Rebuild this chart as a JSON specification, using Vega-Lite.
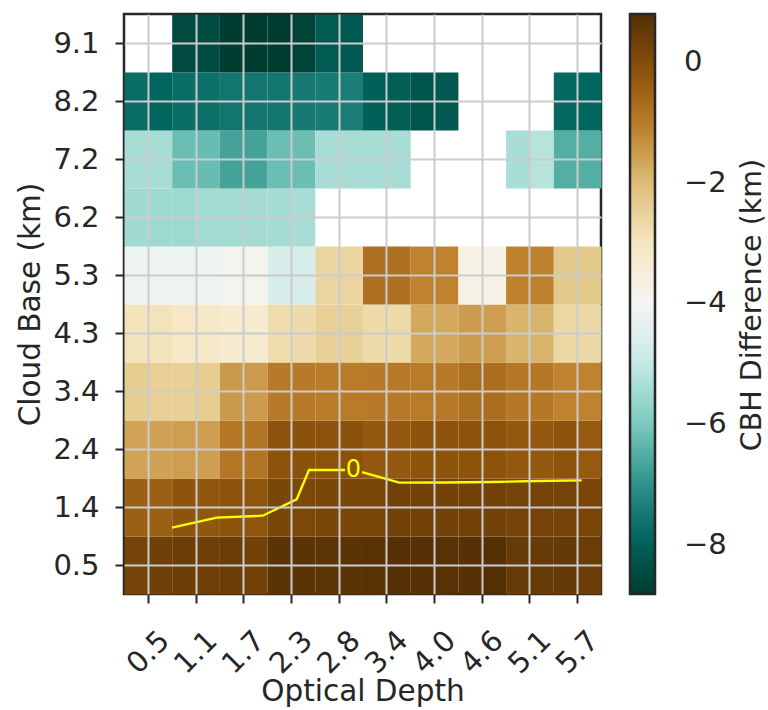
{
  "$schema": "https://vega.github.io/schema/vega-lite/v6.json",
  "width": 477,
  "height": 580,
  "autosize": {"type": "none"},
  "padding": {"left": 124, "top": 14, "right": 167, "bottom": 116},
  "background": "white",
  "config": {
    "view": {"stroke": "#262626", "strokeWidth": 2.5},
    "axis": {
      "labelFont": "DejaVu Sans", "titleFont": "DejaVu Sans",
      "labelFontSize": 29, "titleFontSize": 29.5,
      "labelColor": "#262626", "titleColor": "#262626", "titleFontWeight": "normal",
      "tickColor": "#262626", "tickWidth": 2, "tickSize": 9,
      "domain": false, "grid": true, "gridColor": "#cccccc", "gridWidth": 2, "gridOpacity": 1
    },
    "legend": {
      "labelFont": "DejaVu Sans", "titleFont": "DejaVu Sans",
      "labelFontSize": 29, "titleFontSize": 28.5, "titleFontWeight": "normal",
      "labelColor": "#262626", "titleColor": "#262626"
    }
  },
  "layer": [
    {
      "data": {"values": [
        {"c":0,"r":0,"v":0.22},{"c":1,"r":0,"v":0.33},{"c":2,"r":0,"v":0.38},{"c":3,"r":0,"v":0.34},{"c":4,"r":0,"v":0.38},{"c":5,"r":0,"v":0.29},{"c":6,"r":0,"v":0.69},{"c":7,"r":0,"v":0.67},{"c":8,"r":0,"v":0.65},{"c":9,"r":0,"v":0.67},{"c":10,"r":0,"v":0.72},{"c":11,"r":0,"v":0.77},{"c":12,"r":0,"v":0.76},{"c":13,"r":0,"v":0.72},{"c":14,"r":0,"v":0.76},{"c":15,"r":0,"v":0.79},{"c":16,"r":0,"v":0.46},{"c":17,"r":0,"v":0.46},{"c":18,"r":0,"v":0.5},{"c":19,"r":0,"v":0.41},
        {"c":0,"r":1,"v":-0.47},{"c":1,"r":1,"v":-0.47},{"c":2,"r":1,"v":-0.22},{"c":3,"r":1,"v":-0.29},{"c":4,"r":1,"v":-0.19},{"c":5,"r":1,"v":-0.24},{"c":6,"r":1,"v":0.12},{"c":7,"r":1,"v":0.1},{"c":8,"r":1,"v":0.12},{"c":9,"r":1,"v":0.12},{"c":10,"r":1,"v":0.12},{"c":11,"r":1,"v":0.3},{"c":12,"r":1,"v":0.28},{"c":13,"r":1,"v":0.27},{"c":14,"r":1,"v":0.3},{"c":15,"r":1,"v":0.27},{"c":16,"r":1,"v":0.22},{"c":17,"r":1,"v":0.23},{"c":18,"r":1,"v":0.2},{"c":19,"r":1,"v":0.15},
        {"c":0,"r":2,"v":-1.63},{"c":1,"r":2,"v":-1.62},{"c":2,"r":2,"v":-1.55},{"c":3,"r":2,"v":-1.57},{"c":4,"r":2,"v":-0.9},{"c":5,"r":2,"v":-0.88},{"c":6,"r":2,"v":-0.19},{"c":7,"r":2,"v":-0.17},{"c":8,"r":2,"v":-0.19},{"c":9,"r":2,"v":-0.18},{"c":10,"r":2,"v":-0.32},{"c":11,"r":2,"v":-0.32},{"c":12,"r":2,"v":-0.22},{"c":13,"r":2,"v":-0.22},{"c":14,"r":2,"v":-0.2},{"c":15,"r":2,"v":-0.2},{"c":16,"r":2,"v":-0.32},{"c":17,"r":2,"v":-0.32},{"c":18,"r":2,"v":-0.19},{"c":19,"r":2,"v":-0.33},
        {"c":0,"r":3,"v":-2.39},{"c":1,"r":3,"v":-2.42},{"c":2,"r":3,"v":-2.42},{"c":3,"r":3,"v":-2.39},{"c":4,"r":3,"v":-1.48},{"c":5,"r":3,"v":-1.5},{"c":6,"r":3,"v":-0.98},{"c":7,"r":3,"v":-0.98},{"c":8,"r":3,"v":-1.02},{"c":9,"r":3,"v":-1.0},{"c":10,"r":3,"v":-0.99},{"c":11,"r":3,"v":-0.99},{"c":12,"r":3,"v":-1.0},{"c":13,"r":3,"v":-0.99},{"c":14,"r":3,"v":-0.76},{"c":15,"r":3,"v":-0.75},{"c":16,"r":3,"v":-0.95},{"c":17,"r":3,"v":-0.95},{"c":18,"r":3,"v":-1.14},{"c":19,"r":3,"v":-1.14},
        {"c":0,"r":4,"v":-2.95},{"c":1,"r":4,"v":-2.92},{"c":2,"r":4,"v":-3.08},{"c":3,"r":4,"v":-3.12},{"c":4,"r":4,"v":-3.28},{"c":5,"r":4,"v":-3.28},{"c":6,"r":4,"v":-2.75},{"c":7,"r":4,"v":-2.73},{"c":8,"r":4,"v":-2.45},{"c":9,"r":4,"v":-2.47},{"c":10,"r":4,"v":-2.71},{"c":11,"r":4,"v":-2.69},{"c":12,"r":4,"v":-1.7},{"c":13,"r":4,"v":-1.72},{"c":14,"r":4,"v":-1.53},{"c":15,"r":4,"v":-1.55},{"c":16,"r":4,"v":-1.88},{"c":17,"r":4,"v":-1.88},{"c":18,"r":4,"v":-2.64},{"c":19,"r":4,"v":-2.65},
        {"c":0,"r":5,"v":-4.16},{"c":1,"r":5,"v":-4.18},{"c":2,"r":5,"v":-4.17},{"c":3,"r":5,"v":-4.15},{"c":4,"r":5,"v":-3.88},{"c":5,"r":5,"v":-3.88},{"c":6,"r":5,"v":-4.61},{"c":7,"r":5,"v":-4.61},{"c":8,"r":5,"v":-2.6},{"c":9,"r":5,"v":-2.6},{"c":10,"r":5,"v":-0.81},{"c":11,"r":5,"v":-0.8},{"c":12,"r":5,"v":-1.14},{"c":13,"r":5,"v":-1.15},{"c":14,"r":5,"v":-3.68},{"c":15,"r":5,"v":-3.68},{"c":16,"r":5,"v":-1.12},{"c":17,"r":5,"v":-1.12},{"c":18,"r":5,"v":-2.27},{"c":19,"r":5,"v":-2.27},
        {"c":0,"r":6,"v":-5.5},{"c":1,"r":6,"v":-5.52},{"c":2,"r":6,"v":-5.52},{"c":3,"r":6,"v":-5.48},{"c":4,"r":6,"v":-5.47},{"c":5,"r":6,"v":-5.46},{"c":6,"r":6,"v":-5.44},{"c":7,"r":6,"v":-5.39},
        {"c":0,"r":7,"v":-5.39},{"c":1,"r":7,"v":-5.42},{"c":2,"r":7,"v":-6.2},{"c":3,"r":7,"v":-6.23},{"c":4,"r":7,"v":-6.69},{"c":5,"r":7,"v":-6.69},{"c":6,"r":7,"v":-6.2},{"c":7,"r":7,"v":-6.19},{"c":8,"r":7,"v":-5.39},{"c":9,"r":7,"v":-5.4},{"c":10,"r":7,"v":-5.4},{"c":11,"r":7,"v":-5.4},{"c":16,"r":7,"v":-5.38},{"c":17,"r":7,"v":-5.2},{"c":18,"r":7,"v":-6.48},{"c":19,"r":7,"v":-6.48},
        {"c":0,"r":8,"v":-7.71},{"c":1,"r":8,"v":-7.85},{"c":2,"r":8,"v":-7.69},{"c":3,"r":8,"v":-7.65},{"c":4,"r":8,"v":-7.54},{"c":5,"r":8,"v":-7.52},{"c":6,"r":8,"v":-7.52},{"c":7,"r":8,"v":-7.46},{"c":8,"r":8,"v":-7.42},{"c":9,"r":8,"v":-7.36},{"c":10,"r":8,"v":-7.99},{"c":11,"r":8,"v":-8.01},{"c":12,"r":8,"v":-8.22},{"c":13,"r":8,"v":-8.15},{"c":18,"r":8,"v":-7.81},{"c":19,"r":8,"v":-7.85},
        {"c":2,"r":9,"v":-8.49},{"c":3,"r":9,"v":-8.42},{"c":4,"r":9,"v":-8.79},{"c":5,"r":9,"v":-8.81},{"c":6,"r":9,"v":-8.81},{"c":7,"r":9,"v":-8.63},{"c":8,"r":9,"v":-8.1},{"c":9,"r":9,"v":-8.12}
      ]},
      "mark": {"type": "rect"},
      "encoding": {
        "x": {
          "field": "c", "type": "quantitative",
          "bin": {"step": 1, "extent": [0, 20], "nice": false},
          "scale": {"domain": [0, 20], "nice": false, "zero": false},
          "axis": {
            "title": "Optical Depth",
            "zindex": 1,
            "values": [1, 3, 5, 7, 9, 11, 13, 15, 17, 19],
            "labelExpr": "['0.5','1.1','1.7','2.3','2.8','3.4','4.0','4.6','5.1','5.7'][(datum.value - 1) / 2]",
            "labelAngle": -45, "labelAlign": "center", "labelBaseline": "middle",
            "labelOverlap": false,
            "labelPadding": 49, "titlePadding": -1
          }
        },
        "y": {
          "field": "r", "type": "quantitative",
          "bin": {"step": 1, "extent": [0, 10], "nice": false},
          "scale": {"domain": [0, 10], "nice": false, "zero": false},
          "axis": {
            "title": "Cloud Base (km)",
            "zindex": 1,
            "values": [0.5, 1.5, 2.5, 3.5, 4.5, 5.5, 6.5, 7.5, 8.5, 9.5],
            "labelExpr": "['0.5','1.4','2.4','3.4','4.3','5.3','6.2','7.2','8.2','9.1'][floor(datum.value)]",
            "labelOverlap": false,
            "labelPadding": 16, "titlePadding": 7
          }
        },
        "color": {
          "field": "v", "type": "quantitative",
          "scale": {
            "domain": [-8.81, -7.85, -6.89, -5.93, -4.97, -4.01, -3.05, -2.09, -1.13, -0.17, 0.79],
            "range": ["#003c30", "#01665e", "#35978f", "#80cdc1", "#c7eae5", "#f5f5f5", "#f6e8c3", "#dfc27d", "#bf812d", "#8c510a", "#543005"],
            "interpolate": "rgb"
          },
          "legend": {
            "title": "CBH Difference (km)",
            "orient": "right", "offset": 29, "padding": 0,
            "direction": "vertical",
            "gradientLength": 580, "gradientThickness": 25,
            "gradientStrokeColor": "#262626", "gradientStrokeWidth": 2.5,
            "values": [0, -2, -4, -6, -8],
            "labelOverlap": false,
            "labelOffset": 29,
            "titleOrient": "right", "titleAnchor": "middle", "titleLimit": 700,
            "titleBaseline": "top", "titlePadding": 11,
            "encode": {"title": {"update": {"angle": {"value": 270}}}}
          }
        }
      }
    },
    {
      "data": {"values": [
        {"px": 2.013, "py": 1.143, "seg": "a"},
        {"px": 3.887, "py": 1.316, "seg": "a"},
        {"px": 5.816, "py": 1.350, "seg": "a"},
        {"px": 7.241, "py": 1.633, "seg": "a"},
        {"px": 7.757, "py": 2.138, "seg": "a"},
        {"px": 9.266, "py": 2.138, "seg": "a"},
        {"px": 9.979, "py": 2.100, "seg": "b"},
        {"px": 11.543, "py": 1.919, "seg": "b"},
        {"px": 13.459, "py": 1.922, "seg": "b"},
        {"px": 15.375, "py": 1.931, "seg": "b"},
        {"px": 17.275, "py": 1.948, "seg": "b"},
        {"px": 19.191, "py": 1.960, "seg": "b"}
      ]},
      "mark": {"type": "line", "color": "#ffff00", "strokeWidth": 2.3},
      "encoding": {
        "x": {"field": "px", "type": "quantitative"},
        "y": {"field": "py", "type": "quantitative"},
        "detail": {"field": "seg"}
      }
    },
    {
      "data": {"values": [{"px": 9.62, "py": 2.138, "label": "0"}]},
      "mark": {"type": "text", "color": "#ffff00", "font": "DejaVu Sans", "fontSize": 24, "align": "center", "baseline": "middle"},
      "encoding": {
        "x": {"field": "px", "type": "quantitative"},
        "y": {"field": "py", "type": "quantitative"},
        "text": {"field": "label"}
      }
    }
  ]
}
